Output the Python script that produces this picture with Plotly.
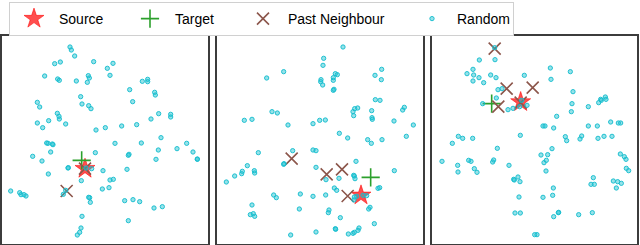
import plotly.graph_objects as go

# ---- data (embedding coordinates per panel, y grows downward) ----
panel1_random = [
    (210,33),(214,42),(224,60),(164,83),(181,78),(281,77),(339,82),(322,97),(134,120),
    (173,129),(178,133),(229,135),(265,119),(268,126),(262,139),(330,118),(427,136),
    (443,130),(443,137),(389,161),(464,169),(466,177),(112,199),(119,213),(242,182),
    (246,204),(266,209),(273,218),(398,197),(512,235),(512,243),(476,233),(453,249),
    (172,232),(177,241),(178,249),(146,254),(112,261),(128,275),(197,264),(288,282),
    (316,275),(365,270),(410,266),(483,305),(140,321),(144,322),(157,324),(159,326),
    (345,322),(424,321),(560,322),(531,338),(475,342),(152,348),(286,350),(579,348),
    (385,358),(387,355),(98,361),(468,370),(592,369),(592,370),(126,375),(205,395),
    (204,396),(275,398),(309,404),(381,400),(145,414),(244,434),(330,432),(340,430),
    (327,455),(307,459),(32,465),(59,470),(63,476),(72,476),(78,480),(197,463),
    (190,475),(266,484),(269,485),(271,499),(374,494),(399,491),(419,497),(462,516),
    (487,512),(246,541),(385,554),(243,576),(239,589),(232,597),(258,396),
]
panel1_source = [(255,398)]
panel1_target = [(245,373)]
panel1_neighbour = [(200,465),(255,398)]

panel2_random = [
    (384,33),(326,67),(324,88),(206,107),(155,126),(500,100),(480,118),(499,131),
    (361,113),(367,116),(355,125),(355,133),(318,131),(317,137),(323,147),(355,163),
    (357,160),(481,191),(495,193),(171,227),(187,231),(414,227),(419,218),(428,216),
    (416,239),(470,224),(471,245),(472,250),(568,214),(563,222),(88,253),(111,250),
    (219,267),(294,263),(314,253),(331,252),(537,255),(595,267),(373,292),(398,306),
    (574,301),(458,311),(469,322),(501,311),(233,344),(130,350),(294,342),(303,344),
    (207,383),(206,385),(97,389),(423,376),(303,394),(118,404),(119,411),(82,406),
    (80,413),(59,420),(34,438),(538,404),(416,418),(420,428),(418,420),(372,427),
    (333,431),(358,456),(365,463),(489,457),(494,455),(176,477),(184,485),(256,474),
    (294,481),(332,477),(418,483),(425,481),(444,478),(455,479),(417,492),(111,507),
    (465,514),(461,519),(253,519),(342,522),(340,530),(106,536),(115,533),(119,541),
    (376,545),(478,563),(432,576),(429,583),(418,589),(361,578),(362,580),(303,588),
    (400,594),(414,592),(227,597),
]
panel2_source = [(438,478)]
panel2_target = [(467,424)]
panel2_neighbour = [(230,368),(335,415),(381,400),(398,480)]

panel3_random = [
    (209,35),(163,72),(210,71),(144,100),(126,113),(146,117),(162,125),(176,140),
    (144,135),(197,117),(213,125),(376,96),(436,107),(298,118),(378,130),(219,161),
    (231,158),(444,167),(214,186),(173,203),(249,221),(264,217),(290,193),(306,208),
    (284,212),(441,203),(439,227),(490,212),(521,200),(527,190),(529,193),(541,183),
    (543,190),(395,241),(354,270),(360,270),(386,276),(490,270),(517,270),(557,258),
    (580,261),(587,261),(286,298),(100,301),(113,307),(143,307),(82,322),(421,302),
    (425,314),(470,300),(465,309),(519,307),(537,301),(561,301),(217,337),(381,338),
    (348,357),(368,356),(364,373),(357,380),(586,354),(598,362),(603,370),(51,376),
    (131,373),(138,376),(206,372),(203,378),(98,388),(252,388),(148,398),(156,409),
    (99,408),(604,397),(611,404),(363,405),(266,430),(268,432),(279,423),(285,437),
    (505,425),(498,445),(508,445),(565,435),(578,437),(589,442),(574,456),(385,456),
    (354,484),(282,483),(383,478),(270,531),(286,531),(401,529),(400,530),(461,536),
    (502,530),(386,542),(329,596),(336,596),
]
panel3_source = [(287,198)]
panel3_target = [(200,203)]
panel3_neighbour = [(209,38),(245,158),(323,155),(220,212),(287,200)]

panels = [
    (panel1_source, panel1_target, panel1_neighbour, panel1_random),
    (panel2_source, panel2_target, panel2_neighbour, panel2_random),
    (panel3_source, panel3_target, panel3_neighbour, panel3_random),
]
x_ranges = [(4.5, 622.5), (4.5, 622.5), (21, 636)]
y_range = (624, 0)

legend_names = ["Source", "Target", "Past Neighbour", "Random"]

# ---- styling ----
styles = [
    dict(symbol="star", size=15, color="rgba(255,20,20,0.75)",
         line=dict(color="rgba(255,0,0,0.9)", width=0.6)),
    dict(symbol="cross-thin", size=13, color="#2ca02c",
         line=dict(color="#2ca02c", width=1.6)),
    dict(symbol="x-thin", size=12, color="#8c564b",
         line=dict(color="#8c564b", width=1.6)),
    dict(symbol="circle", size=4.3, color="rgba(23,190,207,0.45)",
         line=dict(color="rgba(23,190,207,0.95)", width=1)),
]
legend_widths = [61, 58, 114, 51]

domains_x = [(1.5/640, 207.5/640), (216.5/640, 422.5/640), (432/640, 637/640)]
domain_y = (1/245, 209/245)

fig = go.Figure()
for p, groups in enumerate(panels):
    ax = "" if p == 0 else str(p + 1)
    for k, pts in enumerate(groups):
        fig.add_trace(go.Scatter(
            x=[q[0] for q in pts], y=[q[1] for q in pts],
            mode="markers", name=legend_names[k], legendgroup=legend_names[k],
            showlegend=(p == 0), legendwidth=legend_widths[k], marker=styles[k],
            xaxis="x" + ax, yaxis="y" + ax, hoverinfo="skip",
        ))

axis_common = dict(showgrid=False, zeroline=False, showticklabels=False,
                   ticks="", showline=True, mirror=True,
                   linecolor="#3c3c3c", linewidth=1.6, fixedrange=True)
layout = dict(
    width=640, height=245,
    margin=dict(l=0, r=0, t=0, b=0),
    plot_bgcolor="white", paper_bgcolor="white",
    font=dict(family="Liberation Sans, Arial, sans-serif", size=14, color="black"),
    legend=dict(orientation="h", x=9/640, y=1 - 2/245, xanchor="left", yanchor="top",
                bgcolor="white", bordercolor="#d0d0d0", borderwidth=1,
                itemwidth=40, font=dict(size=14)),
)
for p in range(3):
    sfx = "" if p == 0 else str(p + 1)
    layout["xaxis" + sfx] = dict(axis_common, domain=domains_x[p], range=list(x_ranges[p]),
                                 anchor="y" + sfx)
    layout["yaxis" + sfx] = dict(axis_common, domain=domain_y, range=list(y_range),
                                 anchor="x" + sfx)
fig.update_layout(**layout)

fig.write_html("out.html", config={"displayModeBar": False},
               post_script="document.body.style.margin='0';document.body.style.overflow='hidden';")
